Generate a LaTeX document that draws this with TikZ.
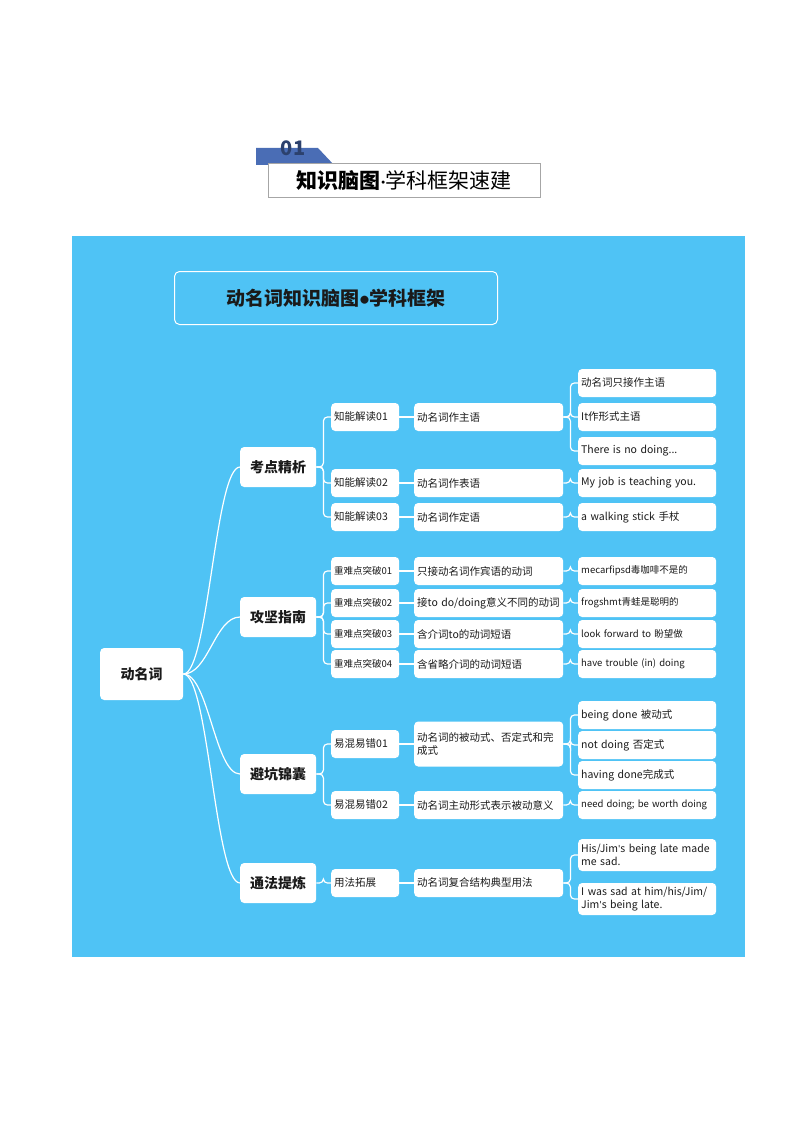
\documentclass[tikz,border=0pt]{standalone}
\usepackage{fontspec}
\setmainfont{Noto Sans CJK SC}
\newfontfamily\latinap{Carlito}
\newcommand{\ap}{{\latinap'}}
\usetikzlibrary{positioning}
\definecolor{skyback}{HTML}{4FC3F5}
\definecolor{tabblue}{HTML}{4A6DB5}
\definecolor{darktxt}{HTML}{1A1A1A}
\tikzset{
  leaf/.style={rectangle, fill=white, rounded corners=4, text=darktxt, font=\fontsize{10.5}{12.5}\selectfont, align=left, inner sep=3pt, anchor=west},
  mainbox/.style={leaf, font=\fontsize{14}{16}\selectfont\bfseries, minimum width=76, minimum height=40, align=center},
  subbox/.style={leaf, text width=62, minimum height=28},
  midbox/.style={leaf, text width=143, minimum height=28},
  exbox/.style={leaf, text width=132, minimum height=28},
  link/.style={white, line width=1.2pt, rounded corners=4},
}
\begin{document}
\begin{tikzpicture}[x=1pt,y=-1pt]
\useasboundingbox (0,0) rectangle (794,1123);
% header
\fill[tabblue] (256,148) -- (318,148) -- (334,165) -- (256,165) -- cycle;
\node[text=tabblue!60!black, font=\fontsize{20}{20}\selectfont\bfseries] (num) at (293,148) {01};
\node[draw=gray!70, fill=white, minimum width=272, minimum height=34, anchor=north west, inner sep=0pt,
  font=\fontsize{21}{23}\selectfont] (head) at (268,163) {\textbf{知识脑图}{\latinap\textperiodcentered}学科框架速建};
% background
\fill[skyback] (72,236) rectangle (745,957);
\node[draw=white, line width=1pt, rounded corners=5, minimum width=323, minimum height=53, anchor=north west,
  font=\fontsize{19}{21}\selectfont\bfseries, text=darktxt] (title) at (174,271) {动名词知识脑图{\latinap\textbullet}学科框架};
% root and main branches
\node[mainbox, minimum width=83, minimum height=52] (root) at (100,674) {动名词};
\node[mainbox] (kd) at (240,467) {考点精析};
\node[mainbox] (gj) at (240,617) {攻坚指南};
\node[mainbox] (bk) at (240,774) {避坑锦囊};
\node[mainbox] (tf) at (240,883) {通法提炼};
% second level
\node[subbox] (kd1) at (331,417) {知能解读01};
\node[subbox] (kd2) at (331,483) {知能解读02};
\node[subbox] (kd3) at (331,517) {知能解读03};
\node[subbox, font=\fontsize{9.5}{11}\selectfont] (gj1) at (331,571) {重难点突破01};
\node[subbox, font=\fontsize{9.5}{11}\selectfont] (gj2) at (331,603) {重难点突破02};
\node[subbox, font=\fontsize{9.5}{11}\selectfont] (gj3) at (331,634) {重难点突破03};
\node[subbox, font=\fontsize{9.5}{11}\selectfont] (gj4) at (331,664) {重难点突破04};
\node[subbox] (bk1) at (331,744) {易混易错01};
\node[subbox] (bk2) at (331,805) {易混易错02};
\node[subbox] (tf1) at (331,883) {用法拓展};
% third level
\node[midbox] (m1) at (414,417) {动名词作主语};
\node[midbox] (m2) at (414,483) {动名词作表语};
\node[midbox] (m3) at (414,517) {动名词作定语};
\node[midbox] (m4) at (414,571) {只接动名词作宾语的动词};
\node[midbox] (m5) at (414,603) {接to do/doing意义不同的动词};
\node[midbox] (m6) at (414,634) {含介词to的动词短语};
\node[midbox] (m7) at (414,664) {含省略介词的动词短语};
\node[midbox, minimum height=45] (m8) at (414,744) {动名词的被动式、否定式和完\\成式};
\node[midbox] (m9) at (414,805) {动名词主动形式表示被动意义};
\node[midbox] (m10) at (414,883) {动名词复合结构典型用法};
% fourth level
\node[exbox] (e1) at (578,383) {动名词只接作主语};
\node[exbox] (e2) at (578,417) {It作形式主语};
\node[exbox] (e3) at (578,451) {There is no doing...};
\node[exbox] (e4) at (578,483) {My job is teaching you.};
\node[exbox] (e5) at (578,517) {a walking stick 手杖};
\node[exbox, font=\fontsize{9.5}{11}\selectfont] (e6) at (578,571) {mecarfipsd毒咖啡不是的};
\node[exbox, font=\fontsize{9.5}{11}\selectfont] (e7) at (578,603) {frogshmt青蛙是聪明的};
\node[exbox, font=\fontsize{9.5}{11}\selectfont] (e8) at (578,634) {look forward to 盼望做};
\node[exbox, font=\fontsize{9.5}{11}\selectfont] (e9) at (578,664) {have trouble (in) doing};
\node[exbox] (e10) at (578,715) {being done 被动式};
\node[exbox] (e11) at (578,745) {not doing 否定式};
\node[exbox] (e12) at (578,775) {having done完成式};
\node[exbox, font=\fontsize{9.5}{11}\selectfont] (e13) at (578,805) {need doing; be worth doing};
\node[exbox, minimum height=32] (e14) at (578,855) {His/Jim\ap s being late made\\me sad.};
\node[exbox, minimum height=32] (e15) at (578,899) {I was sad at him/his/Jim/\\Jim\ap s being late.};
% connectors
\foreach \b in {kd,gj,bk,tf}
  \draw[link] (root.east) .. controls +(25,0) and +(-25,0) .. (\b.west);
\foreach \a/\b in {kd/kd1,kd/kd2,kd/kd3,gj/gj1,gj/gj2,gj/gj3,gj/gj4,bk/bk1,bk/bk2,tf/tf1}
  \draw[link] (\a.east) -- ++(7,0) |- (\b.west);
\foreach \a/\b in {kd1/m1,kd2/m2,kd3/m3,gj1/m4,gj2/m5,gj3/m6,gj4/m7,bk1/m8,bk2/m9,tf1/m10}
  \draw[link] (\a.east) -- (\b.west);
\foreach \a/\b in {m1/e1,m1/e2,m1/e3,m2/e4,m3/e5,m4/e6,m5/e7,m6/e8,m7/e9,m8/e10,m8/e11,m8/e12,m9/e13,m10/e14,m10/e15}
  \draw[link] (\a.east) -- ++(7,0) |- (\b.west);
\end{tikzpicture}
\end{document}
